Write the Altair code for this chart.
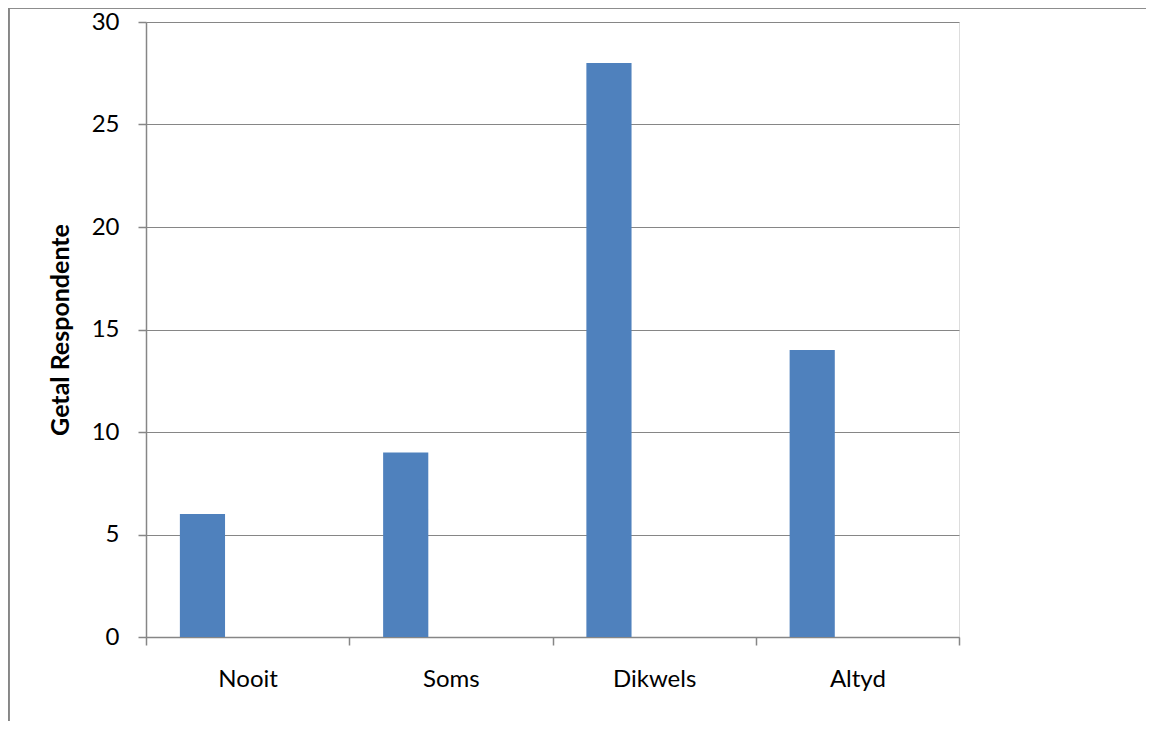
import altair as alt
import pandas as pd

categories = ["Nooit", "Soms", "Dikwels", "Altyd"]
values = [6, 9, 28, 14]
series = ["Reeks1", "Reeks1", "Reeks1", "Reeks1"]
series_domain = ["Reeks1", "Reeks2", "Reeks3"]

df = pd.DataFrame({"cat": categories, "val": values, "ser": series})

GRAY = "#868686"
FONT = "Lato"

W, H = 813, 615

bars = alt.Chart(df).mark_bar(color="#4F81BD").encode(
    x=alt.X("cat:N", sort=categories,
            scale=alt.Scale(paddingInner=0, paddingOuter=0),
            axis=alt.Axis(title=None, labelAngle=0, tickBand="extent",
                          domainColor=GRAY, tickColor=GRAY, tickSize=8,
                          labelFont=FONT, labelFontSize=24, labelColor="black",
                          labelPadding=22, grid=False, domainWidth=1.5, tickWidth=1.5)),
    xOffset=alt.XOffset("ser:N", scale=alt.Scale(domain=series_domain, paddingInner=0, paddingOuter=0.75)),
    y=alt.Y("val:Q", scale=alt.Scale(domain=[0, 30], nice=False),
            axis=alt.Axis(title="Getal Respondente", values=[0, 5, 10, 15, 20, 25, 30],
                          domainColor=GRAY, tickColor=GRAY, tickSize=8,
                          gridColor=GRAY, gridWidth=1.2, domainWidth=1.5, tickWidth=1.5,
                          labelFont=FONT, labelFontSize=24, labelColor="black",
                          labelPadding=19,
                          titleFont=FONT, titleFontSize=25, titleFontWeight="bold",
                          titleColor="black", titleX=-86, titleY=H / 2,
                          titleAlign="center", titleBaseline="middle", titleAngle=270)),
)

border_left = alt.Chart(df).mark_rule(color=GRAY, strokeWidth=2).encode(
    x=alt.value(-137.5), y=alt.value(-14), y2=alt.value(H + 120)
)
border_top = alt.Chart(df).mark_rule(color=GRAY, strokeWidth=2).encode(
    x=alt.value(-137.5), x2=alt.value(W + 300), y=alt.value(-14.5)
)

chart = alt.layer(bars, border_left, border_top).properties(
    width=W, height=H,
    autosize=alt.AutoSizeParams(type="none"),
    padding={"left": 138, "top": 14, "right": 187, "bottom": 84},
).configure_view(stroke=None).configure(background="white")

chart.save("out.html", embed_options={"renderer": "svg", "actions": False})
